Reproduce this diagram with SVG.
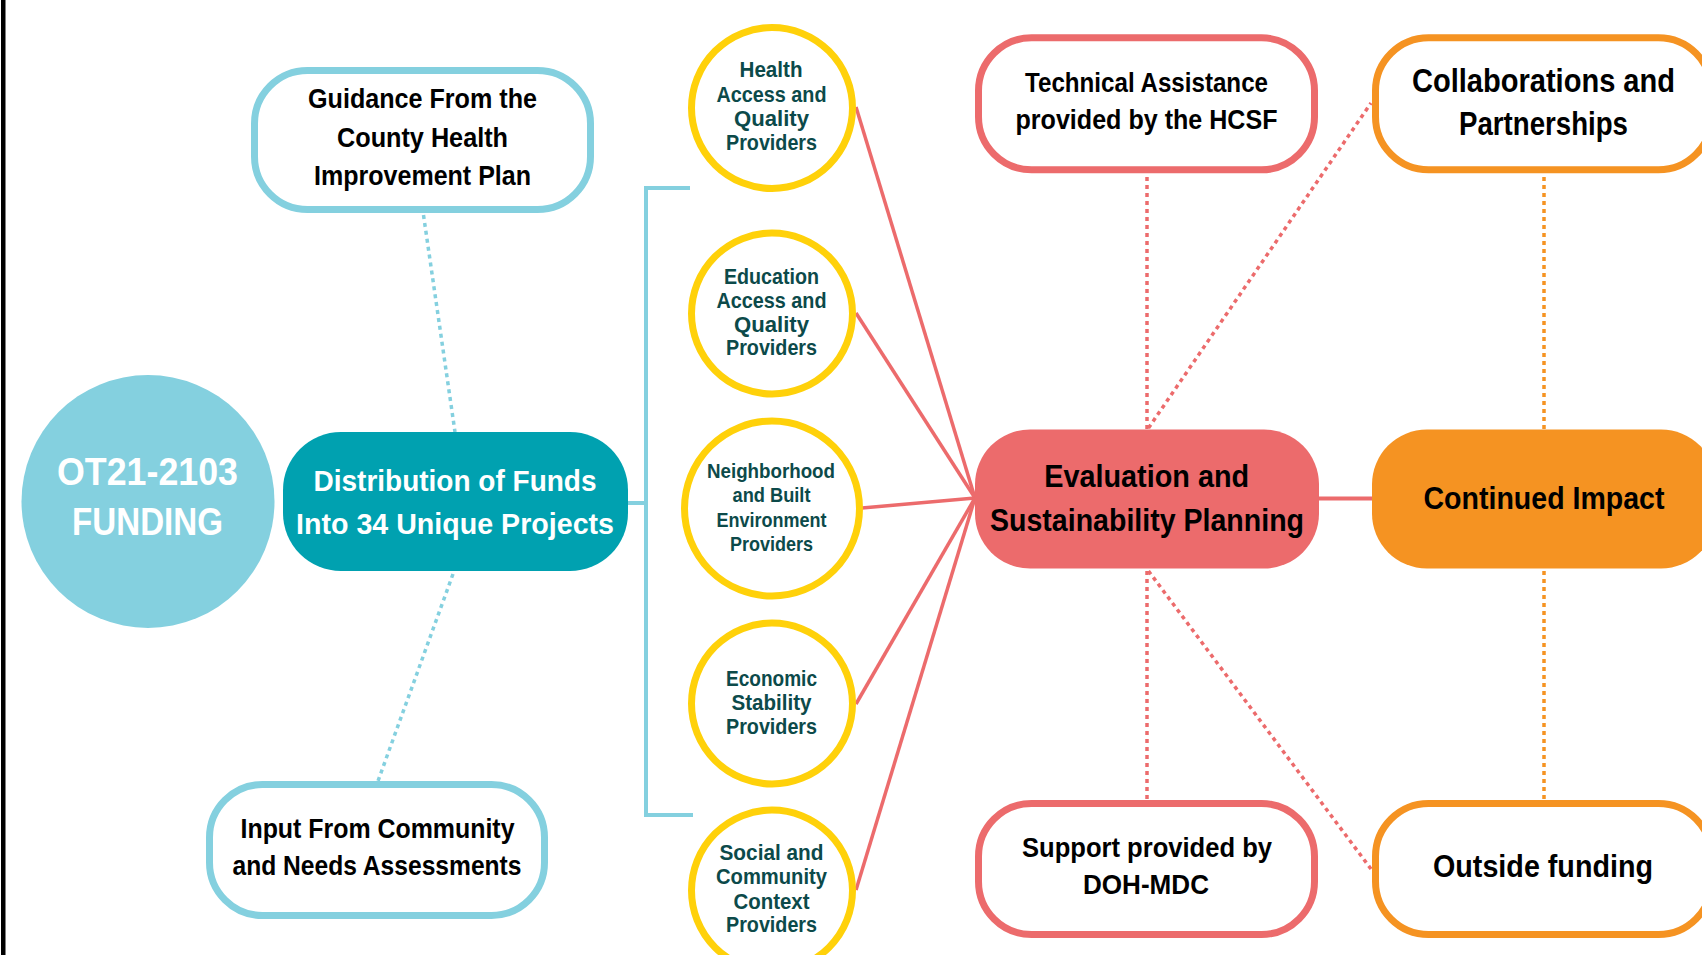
<svg xmlns="http://www.w3.org/2000/svg" width="1702" height="955" viewBox="0 0 1702 955">
<style>
text{font-family:"Liberation Sans",Arial,sans-serif;font-weight:700;text-anchor:middle}
.blk{fill:#000}
.wht{fill:#fff}
.tl{fill:#0c4a4a;font-size:22px}
.tl2{fill:#0c4a4a;font-size:20.5px}
.sb{fill:#fff;stroke:#84d0df;stroke-width:7}
.sr{fill:#fff;stroke:#ec6b6c;stroke-width:7}
.so{fill:#fff;stroke:#f59322;stroke-width:7}
.yc{fill:#fff;stroke:#ffd10a;stroke-width:7}
.dotb{stroke:#84d0df;stroke-width:3.5;stroke-dasharray:4 4;fill:none}
.dotr{stroke:#ec6b6c;stroke-width:3.5;stroke-dasharray:4 4;fill:none}
.doto{stroke:#f59322;stroke-width:3.5;stroke-dasharray:4 4;fill:none}
.lr{stroke:#ec6b6c;stroke-width:3.5;fill:none}
.lb{stroke:#84d0df;stroke-width:4;fill:none}
</style>
<rect width="1702" height="955" fill="#fff"/>
<rect x="1" y="0" width="4.5" height="955" fill="#000"/>

<g id="connectors">
<path class="lb" d="M690 188H646V815H693"/>
<path class="lb" d="M623 503H646"/>
<path class="dotb" d="M423.5 215L455 432"/>
<path class="dotb" d="M453 574L378 781"/>
<path class="lr" d="M856 107L975 498"/>
<path class="lr" d="M856 313L975 498"/>
<path class="lr" d="M862 508L975 498"/>
<path class="lr" d="M856 704L975 498"/>
<path class="lr" d="M856 890L975 498"/>
<path class="lr" d="M1319 498.5H1372" style="stroke-width:4"/>
<path class="dotr" d="M1147 177V429"/>
<path class="dotr" d="M1148.5 428L1371 103"/>
<path class="dotr" d="M1147 571V799"/>
<path class="dotr" d="M1148.5 571L1371 869"/>
<path class="doto" d="M1544 177V429"/>
<path class="doto" d="M1544 571V799"/>
</g>

<g id="funding">
<circle cx="148" cy="501.5" r="126.5" fill="#84d0df"/>
<text class="wht" x="147.5" y="485" font-size="39" textLength="181" lengthAdjust="spacingAndGlyphs">OT21-2103</text>
<text class="wht" x="147.5" y="535" font-size="39" textLength="151" lengthAdjust="spacingAndGlyphs">FUNDING</text>
</g>

<g id="distribution">
<rect x="283" y="432" width="345" height="139" rx="58" fill="#00a1b0"/>
<text class="wht" x="455" y="490.5" font-size="29.5" textLength="283" lengthAdjust="spacingAndGlyphs">Distribution of Funds</text>
<text class="wht" x="455" y="533.5" font-size="29.5" textLength="318" lengthAdjust="spacingAndGlyphs">Into 34 Unique Projects</text>
</g>

<g id="guidance">
<rect class="sb" x="254.5" y="70.5" width="336" height="139" rx="53"/>
<text class="blk" x="422.5" y="108" font-size="28" textLength="229" lengthAdjust="spacingAndGlyphs">Guidance From the</text>
<text class="blk" x="422.5" y="147" font-size="28" textLength="171" lengthAdjust="spacingAndGlyphs">County Health</text>
<text class="blk" x="422.5" y="185" font-size="28" textLength="217" lengthAdjust="spacingAndGlyphs">Improvement Plan</text>
</g>

<g id="input">
<rect class="sb" x="209.5" y="784.5" width="335" height="131" rx="53"/>
<text class="blk" x="377.5" y="837.5" font-size="27.5" textLength="274" lengthAdjust="spacingAndGlyphs">Input From Community</text>
<text class="blk" x="377" y="875" font-size="27.5" textLength="289" lengthAdjust="spacingAndGlyphs">and Needs Assessments</text>
</g>

<g id="health">
<circle class="yc" cx="772" cy="108" r="80.5"/>
<text class="tl" x="771" y="77.3" textLength="63" lengthAdjust="spacingAndGlyphs">Health</text>
<text class="tl" x="771.5" y="101.7" textLength="110" lengthAdjust="spacingAndGlyphs">Access and</text>
<text class="tl" x="771.5" y="126" textLength="75" lengthAdjust="spacingAndGlyphs">Quality</text>
<text class="tl" x="771.5" y="150" textLength="91" lengthAdjust="spacingAndGlyphs">Providers</text>
</g>

<g id="education">
<circle class="yc" cx="772" cy="313.5" r="80.5"/>
<text class="tl" x="771.5" y="284" textLength="95" lengthAdjust="spacingAndGlyphs">Education</text>
<text class="tl" x="771.5" y="307.5" textLength="110" lengthAdjust="spacingAndGlyphs">Access and</text>
<text class="tl" x="771.5" y="331.5" textLength="75" lengthAdjust="spacingAndGlyphs">Quality</text>
<text class="tl" x="771.5" y="355" textLength="91" lengthAdjust="spacingAndGlyphs">Providers</text>
</g>

<g id="neighborhood">
<circle class="yc" cx="772" cy="508.5" r="87.5"/>
<text class="tl2" x="771" y="478" textLength="128" lengthAdjust="spacingAndGlyphs">Neighborhood</text>
<text class="tl2" x="771.5" y="502" textLength="78" lengthAdjust="spacingAndGlyphs">and Built</text>
<text class="tl2" x="771.5" y="527" textLength="110" lengthAdjust="spacingAndGlyphs">Environment</text>
<text class="tl2" x="771.5" y="551" textLength="83" lengthAdjust="spacingAndGlyphs">Providers</text>
</g>

<g id="economic">
<circle class="yc" cx="772" cy="703.5" r="80.5"/>
<text class="tl" x="771.5" y="686" textLength="91" lengthAdjust="spacingAndGlyphs">Economic</text>
<text class="tl" x="771.5" y="710" textLength="80" lengthAdjust="spacingAndGlyphs">Stability</text>
<text class="tl" x="771.5" y="734" textLength="91" lengthAdjust="spacingAndGlyphs">Providers</text>
</g>

<g id="social">
<circle class="yc" cx="772" cy="890.5" r="80.5"/>
<text class="tl" x="771.5" y="860" textLength="104" lengthAdjust="spacingAndGlyphs">Social and</text>
<text class="tl" x="771.5" y="884" textLength="111" lengthAdjust="spacingAndGlyphs">Community</text>
<text class="tl" x="771.5" y="908.5" textLength="76" lengthAdjust="spacingAndGlyphs">Context</text>
<text class="tl" x="771.5" y="932" textLength="91" lengthAdjust="spacingAndGlyphs">Providers</text>
</g>

<g id="technical">
<rect class="sr" x="978.5" y="37.8" width="336" height="132" rx="53"/>
<text class="blk" x="1146.5" y="91.7" font-size="28" textLength="243" lengthAdjust="spacingAndGlyphs">Technical Assistance</text>
<text class="blk" x="1146.5" y="129.3" font-size="28" textLength="262" lengthAdjust="spacingAndGlyphs">provided by the HCSF</text>
</g>

<g id="collaborations">
<rect class="so" x="1375.5" y="37.8" width="336" height="132" rx="53"/>
<text class="blk" x="1543.5" y="91.7" font-size="34" textLength="263" lengthAdjust="spacingAndGlyphs">Collaborations and</text>
<text class="blk" x="1543.5" y="135" font-size="33" textLength="169" lengthAdjust="spacingAndGlyphs">Partnerships</text>
</g>

<g id="evaluation">
<rect x="975" y="429.5" width="344" height="139" rx="55" fill="#ec6b6c"/>
<text class="blk" x="1146.7" y="486.7" font-size="32" textLength="205" lengthAdjust="spacingAndGlyphs">Evaluation and</text>
<text class="blk" x="1147" y="531" font-size="32" textLength="314" lengthAdjust="spacingAndGlyphs">Sustainability Planning</text>
</g>

<g id="continued">
<rect x="1372" y="429.5" width="344" height="139" rx="55" fill="#f59322"/>
<text class="blk" x="1544" y="508.7" font-size="32" textLength="241" lengthAdjust="spacingAndGlyphs">Continued Impact</text>
</g>

<g id="support">
<rect class="sr" x="978.5" y="803.5" width="336" height="131" rx="53"/>
<text class="blk" x="1147" y="857" font-size="28" textLength="250" lengthAdjust="spacingAndGlyphs">Support provided by</text>
<text class="blk" x="1146" y="893.7" font-size="27" textLength="126" lengthAdjust="spacingAndGlyphs">DOH-MDC</text>
</g>

<g id="outside">
<rect class="so" x="1375.5" y="803.5" width="336" height="131" rx="53"/>
<text class="blk" x="1543" y="877" font-size="32" textLength="220" lengthAdjust="spacingAndGlyphs">Outside funding</text>
</g>
</svg>
